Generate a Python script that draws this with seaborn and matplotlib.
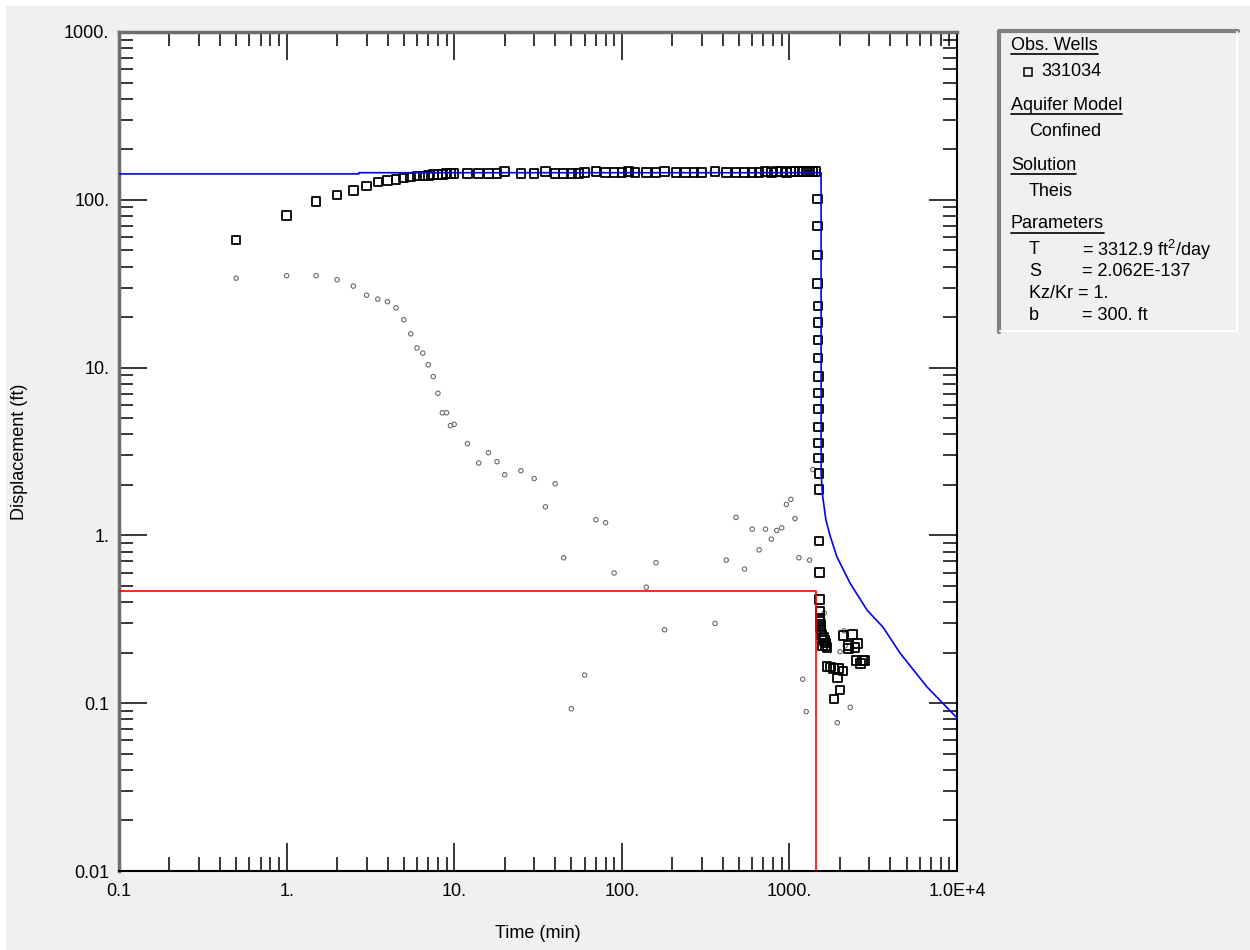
import matplotlib
matplotlib.use("Agg")
import matplotlib.pyplot as plt
from matplotlib.lines import Line2D
from matplotlib.patches import Rectangle
from matplotlib.ticker import FixedLocator, FixedFormatter, LogLocator, NullFormatter
import seaborn as sns

# --- data ---
# pumping phase, obs. well 331034 (time min, displacement ft)
pump_time = [0.5, 1, 1.5, 2, 2.5, 3, 3.5, 4, 4.5, 5, 5.5, 6, 6.5, 7, 7.5, 8, 8.5, 9, 9.5, 10,
             12, 14, 16, 18, 20, 25, 30, 35, 40, 45, 50, 55, 60, 70, 80, 90, 100, 110, 120,
             140, 160, 180, 210, 240, 270, 300, 360, 420, 480, 540, 600,
             660, 720, 780, 840, 900, 960, 1020, 1080, 1140, 1200, 1260, 1320, 1380, 1440]
pump_disp = [57.5, 80.5, 97.4, 107, 114, 121, 128, 130, 132, 135, 137, 139, 139, 140, 141, 142, 142, 143, 143, 143,
             143, 144, 143, 144, 148, 144, 144, 148, 144, 144, 144, 144, 146, 148, 145, 145, 145, 147, 145,
             146, 145, 147, 145, 146, 145, 146, 148, 145, 146, 145, 146,
             146, 147, 146, 147, 147, 146, 147, 147, 148, 147, 147, 147, 148, 148]

# recovery phase
rec_time = [1470, 1472, 1474, 1476, 1478, 1480, 1482, 1484, 1486, 1488, 1490, 1492, 1494, 1496, 1498, 1500,
            1505, 1510, 1515, 1518, 1523, 1526, 1530, 1535, 1545, 1560, 1571, 1597, 1620, 1651, 1640, 1673,
            1673, 1755, 1839, 1958, 2090, 1930, 2007, 1851,
            2090, 2373, 2548, 2242, 2257, 2461, 2520, 2728, 2660, 2808]
rec_disp = [101, 69.8, 46.9, 31.8, 23.3, 18.5, 14.6, 11.4, 8.83, 7.06, 5.66, 4.43, 3.56, 2.89, 2.34, 1.88,
            0.927, 0.602, 0.416, 0.354, 0.321, 0.307, 0.297, 0.285, 0.274, 0.256, 0.220, 0.247, 0.237, 0.229, 0.220, 0.215,
            0.165, 0.164, 0.161, 0.161, 0.156, 0.141, 0.120, 0.106,
            0.253, 0.256, 0.227, 0.220, 0.212, 0.215, 0.180, 0.179, 0.172, 0.180]

# derivative (small gray circles)
deriv_time = [0.5, 1, 1.5, 2, 2.5, 3, 3.5, 4, 4.5, 5, 5.5, 6, 6.5, 7, 7.5, 8, 8.5, 9, 9.5, 10,
              12, 14, 16, 18, 20, 25, 30, 35, 40, 45, 50, 60, 70, 80, 90, 140, 160, 180,
              360, 420, 480, 540, 600, 660, 720, 780, 840, 900, 960, 1020, 1080, 1140, 1200,
              1260, 1320, 1380, 1615, 2118, 2004, 2307, 1932, 2150]
deriv_val = [34.1, 35.3, 35.3, 33.4, 30.6, 27.0, 25.6, 24.7, 22.7, 19.3, 15.9, 13.1, 12.2, 10.4, 8.84, 7.03, 5.38, 5.38, 4.51, 4.59,
             3.52, 2.70, 3.11, 2.75, 2.30, 2.43, 2.18, 1.48, 2.03, 0.736, 0.0927, 0.147, 1.24, 1.19, 0.597, 0.491, 0.687, 0.274,
             0.299, 0.712, 1.28, 0.63, 1.09, 0.820, 1.09, 0.95, 1.07, 1.11, 1.53, 1.64, 1.26, 0.736, 0.139,
             0.0891, 0.712, 2.47, 0.345, 0.270, 0.203, 0.0944, 0.0765, 0.22]

# Theis model curve (blue)
model_time = [0.1, 2.7, 2.7, 1545, 1547, 1575, 1650, 1746, 1923, 2300, 2904, 3616, 4571, 6622, 10000]
model_disp = [142.6, 142.6, 145, 145, 2.3, 1.75, 1.24, 1.0, 0.743, 0.52, 0.359, 0.284, 0.199, 0.125, 0.0817]

# red line
red_time = [0.1, 1442, 1442]
red_disp = [0.466, 0.466, 0.005]

x_ticks = [0.1, 1, 10, 100, 1000, 10000]
x_labels = ["0.1", "1.", "10.", "100.", "1000.", "1.0E+4"]
y_ticks = [0.01, 0.1, 1, 10, 100, 1000]
y_labels = ["0.01", "0.1", "1.", "10.", "100.", "1000."]

legend_rows = [
    (1011, 45, "Obs. Wells", True),
    (1041, 72, "331034", False),
    (1011, 105, "Aquifer Model", True),
    (1029, 131, "Confined", False),
    (1011, 165, "Solution", True),
    (1029, 191, "Theis", False),
    (1011, 224, "Parameters", True),
    (1029, 250, "T", False),
    (1082, 250, "= 3312.9 ft$^{2}$/day", False),
    (1029, 272, "S", False),
    (1082, 272, "= 2.062E-137", False),
    (1029, 294, "Kz/Kr = 1.", False),
    (1029, 316, "b", False),
    (1082, 316, "= 300. ft", False),
]

# --- style ---
sns.set_style("white")
plt.rcParams['font.family'] = ['Liberation Sans', 'DejaVu Sans']
plt.rcParams['mathtext.fontset'] = 'custom'
plt.rcParams['mathtext.rm'] = 'Liberation Sans'
plt.rcParams['mathtext.it'] = 'Liberation Sans:italic'

W, H = 1250, 950
BG = '#f0f0f0'

def fx(x):
    return x / W

def fy(y):
    return 1 - y / H

fig = plt.figure(figsize=(12.5, 9.5), dpi=100, facecolor='white')
fig.add_artist(Rectangle((fx(6), 0), 1, fy(6), transform=fig.transFigure,
                         facecolor=BG, edgecolor='none', zorder=-10))

ax = fig.add_axes([fx(119), fy(871), fx(957) - fx(119), fy(32) - fy(871)])
ax.set_xscale('log')
ax.set_yscale('log')
ax.set_xlim(0.1, 1e4)
ax.set_ylim(0.01, 1000)
ax.set_facecolor('white')

# --- marks ---
sns.scatterplot(x=deriv_time, y=deriv_val, marker='o', s=10, facecolor='none',
                edgecolor='#6a6a6a', linewidth=0.8, ax=ax, zorder=2)
sns.scatterplot(x=pump_time + rec_time, y=pump_disp + rec_disp, marker='s', s=38,
                facecolor='none', edgecolor='black', linewidth=1.3, ax=ax, zorder=3)
sns.lineplot(x=red_time, y=red_disp, sort=False, estimator=None, color='#ff0000',
             linewidth=1.2, ax=ax, zorder=4)
sns.lineplot(x=model_time, y=model_disp, sort=False, estimator=None, color='#0000ff',
             linewidth=1.2, ax=ax, zorder=5)

# --- axes styling ---
ax.xaxis.set_major_locator(FixedLocator(x_ticks))
ax.xaxis.set_major_formatter(FixedFormatter(x_labels))
ax.yaxis.set_major_locator(FixedLocator(y_ticks))
ax.yaxis.set_major_formatter(FixedFormatter(y_labels))
ax.xaxis.set_minor_locator(LogLocator(base=10, subs=range(2, 10), numticks=20))
ax.yaxis.set_minor_locator(LogLocator(base=10, subs=range(2, 10), numticks=20))
ax.xaxis.set_minor_formatter(NullFormatter())
ax.yaxis.set_minor_formatter(NullFormatter())

ax.tick_params(which='major', direction='in', length=20, width=1.1, color='black',
               top=True, right=True, bottom=True, left=True, labelsize=13, labelcolor='black')
ax.tick_params(which='minor', direction='in', length=10, width=1.1, color='black',
               top=True, right=True, bottom=True, left=True)
ax.tick_params(axis='x', which='major', pad=9)
ax.tick_params(axis='y', which='major', pad=7)

for side in ['left', 'top']:
    ax.spines[side].set_color('#6e6e6e')
    ax.spines[side].set_linewidth(2.5)
for side in ['right', 'bottom']:
    ax.spines[side].set_color('black')
    ax.spines[side].set_linewidth(1.5)

ax.set_xlabel("Time (min)", fontsize=13, color='black')
ax.set_ylabel("Displacement (ft)", fontsize=13, color='black')
ax.xaxis.set_label_coords(0.5, (871 - 925) / 839)
ax.yaxis.set_label_coords((28 - 119) / 838, 0.5)

# --- legend panel ---
fig.add_artist(Rectangle((fx(998), fy(332)), fx(1238) - fx(998), fy(30) - fy(332),
                         transform=fig.transFigure, facecolor=BG, edgecolor='none'))
fig.add_artist(Line2D([fx(999), fx(999), fx(1238)], [fy(332), fy(31), fy(31)],
                      transform=fig.transFigure, color='#808080', linewidth=3))
fig.add_artist(Line2D([fx(1000), fx(1237), fx(1237)], [fy(331), fy(331), fy(32)],
                      transform=fig.transFigure, color='white', linewidth=1.5))
fig.add_artist(Line2D([fx(1028)], [fy(72)], transform=fig.transFigure, marker='s',
                      markersize=6, markerfacecolor='none', markeredgecolor='black',
                      markeredgewidth=1.1, linestyle='none'))

texts = []
for x, y, label, underline in legend_rows:
    t = fig.text(fx(x), fy(y), label, fontsize=13, color='black', ha='left', va='center')
    texts.append((t, y, underline))

fig.canvas.draw()
renderer = fig.canvas.get_renderer()
for t, y, underline in texts:
    if underline:
        bb = t.get_window_extent(renderer)
        fig.add_artist(Line2D([bb.x0 / W, bb.x1 / W], [fy(y + 9), fy(y + 9)],
                              transform=fig.transFigure, color='black', linewidth=1.2))

fig.savefig("out.png", dpi=100, facecolor=fig.get_facecolor())
